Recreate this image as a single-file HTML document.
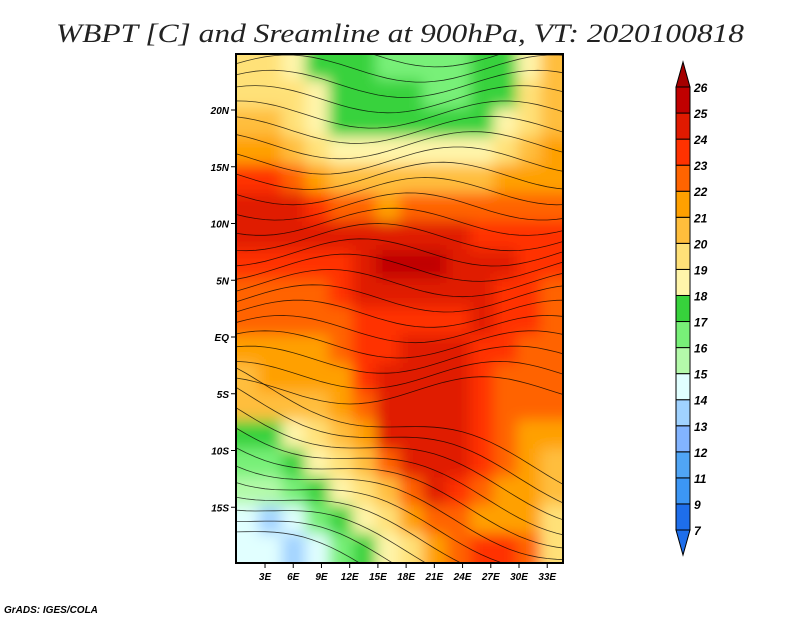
<!DOCTYPE html>
<html><head><meta charset="utf-8"><style>
body{margin:0;background:#fff;width:800px;height:618px;overflow:hidden}
svg text{font-family:"Liberation Sans",sans-serif}
</style></head><body>
<svg id="c" width="800" height="618" xmlns="http://www.w3.org/2000/svg">
<defs>
<filter id="bl" x="0" y="0" width="1" height="1"><feGaussianBlur stdDeviation="7"/></filter>
<clipPath id="mc"><rect x="236" y="54" width="327" height="509"/></clipPath>
</defs>
<text x="400" y="42" text-anchor="middle" font-size="26" font-style="italic" fill="#222" style="font-family:'Liberation Serif',serif" textLength="688" lengthAdjust="spacingAndGlyphs">WBPT [C] and Sreamline at 900hPa, VT: 2020100818</text>
<g id="map" clip-path="url(#mc)"><g id="cells" filter="url(#bl)"></g><g id="stream"></g></g>
<rect x="236" y="54" width="327" height="509" fill="none" stroke="#000" stroke-width="2"/>
<g id="axes"></g>
<g id="cbar"></g>
<text x="4" y="613" font-size="10" font-style="italic" font-weight="bold">GrADS: IGES/COLA</text>
</svg>
<script>
const lonTicks=[3,6,9,12,15,18,21,24,27,30,33];
const latTicks=[20,15,10,5,0,-5,-10,-15];
const levels=[7,9,11,12,13,14,15,16,17,18,19,20,21,22,23,24,25,26];
const colors=["#1e6eeb","#3c96f5","#50a5f5","#82b4ff","#a0d2ff","#e1ffff","#b4faaa","#78f078","#37d23c","#fff5aa","#ffe178","#ffbe3c","#ffa000","#ff6400","#ff3200","#e01a00","#c00000"];
const lowColor="#1e6eeb", highColor="#a50000";
const gridLats=[25,22.5,20,17.5,15,12.5,10,7.5,5,2.5,0,-2.5,-5,-7.5,-10,-12.5,-15,-17.5];
const gridLons=[0,2.5,5,7.5,10,12.5,15,17.5,20,22.5,25,27.5,30,32.5];
const wbpt=[
[19,19,18,17,17,17,16,16,16,16,17,17,18,20],
[19,19,19,18,17,17,17,17,16,16,17,17,19,20],
[20,20,19,18,17,17,17,17,17,17,17,18,19,20],
[21,21,20,19,18,18,18,18,18,18,18,19,20,21],
[23,23,22,21,20,20,20,20,20,20,20,21,21,21],
[24,24,24,23,22,22,21,22,22,22,22,22,22,22],
[24,24,24,24,24,24,24,24,24,24,23,23,23,23],
[23,23,23,23,23,24,25,25,25,24,24,24,23,23],
[22,22,22,22,23,24,24,24,24,24,24,23,23,22],
[22,22,22,22,22,23,23,23,23,23,24,23,23,22],
[21,21,21,21,22,23,23,24,24,24,23,23,22,22],
[20,21,21,21,21,23,24,24,24,24,23,22,22,22],
[20,20,20,20,21,22,24,24,24,24,23,22,22,22],
[17,17,18,19,20,21,24,24,24,24,23,22,21,21],
[16,16,17,18,19,20,22,24,24,24,23,22,21,20],
[15,15,16,17,18,19,20,22,24,23,22,21,21,20],
[14,13,14,16,17,18,19,21,22,22,21,21,21,19],
[14,14,13,14,16,17,18,19,21,22,23,23,22,19]];
const NS="http://www.w3.org/2000/svg";
const x=lon=>236.8+lon*(282.2/30);
const y=lat=>337-lat*(227/20);
function colorOf(v){if(v<levels[0])return lowColor;for(let i=levels.length-2;i>=0;i--)if(v>=levels[i])return colors[i];return lowColor;}
function mk(t,a,p){const e=document.createElementNS(NS,t);for(const k in a)e.setAttribute(k,a[k]);p.appendChild(e);return e;}
const cells=document.getElementById('cells');
gridLats.forEach((la,i)=>gridLons.forEach((lo,j)=>{
 let x0=x(lo)-2,x1=x(lo+2.5)+2,y0=y(la)-2,y1=y(la-2.5)+2;
 if(j===0)x0-=30; if(j===gridLons.length-1)x1+=30; if(i===0)y0-=30; if(i===gridLats.length-1)y1+=30;
 const r=mk('rect',{x:x0,y:y0,width:x1-x0,height:y1-y0,fill:colorOf(wbpt[i][j])},cells);
 
 
}));
const st=document.getElementById('stream');
for(let k=0;k<34;k++){
 const la=25-k*1.35;let d='';
 for(let s=0;s<=36;s++){const lo=-1+s;const yy=la+1.2*Math.sin((lo+k*1.7)/4.5)+(la<-5?-(lo-10)*0.25:0);d+=(s?'L':'M')+x(lo).toFixed(1)+' '+y(yy).toFixed(1);}
 const p=mk('path',{d:d,fill:'none',stroke:'#000','stroke-width':0.8,opacity:0.75},st);
 
 
}
const ax=document.getElementById('axes');
lonTicks.forEach(l=>{mk('line',{x1:x(l),x2:x(l),y1:563,y2:568,stroke:'#000'},ax);
 const t=mk('text',{x:x(l),y:580,'text-anchor':'middle','font-size':10,'font-style':'italic','font-weight':'bold'},ax);t.textContent=l+'E';
 
 });
latTicks.forEach(l=>{mk('line',{x1:231,x2:236,y1:y(l),y2:y(l),stroke:'#000'},ax);
 const t=mk('text',{x:229,y:y(l)+4,'text-anchor':'end','font-size':10,'font-style':'italic','font-weight':'bold'},ax);t.textContent=l===0?'EQ':(l>0?l+'N':(-l)+'S');
 
 });
const cb=document.getElementById('cbar');
const cbTop=87,cbBot=530,nBox=colors.length,bh=(cbBot-cbTop)/nBox;
colors.forEach((c,i)=>{const r=mk('rect',{x:676,y:cbBot-(i+1)*bh,width:14,height:bh,fill:c,stroke:'#000','stroke-width':1},cb);
 
 });
mk('polygon',{points:'676,87 690,87 683,62',fill:highColor,stroke:'#000'},cb);
mk('polygon',{points:'676,530 690,530 683,555',fill:lowColor,stroke:'#000'},cb);
levels.forEach((v,i)=>{const t=mk('text',{x:694,y:cbBot-i*bh+5,'font-size':12,'font-style':'italic','font-weight':'bold'},cb);t.textContent=v;
 
 });
</script>
</body></html>
